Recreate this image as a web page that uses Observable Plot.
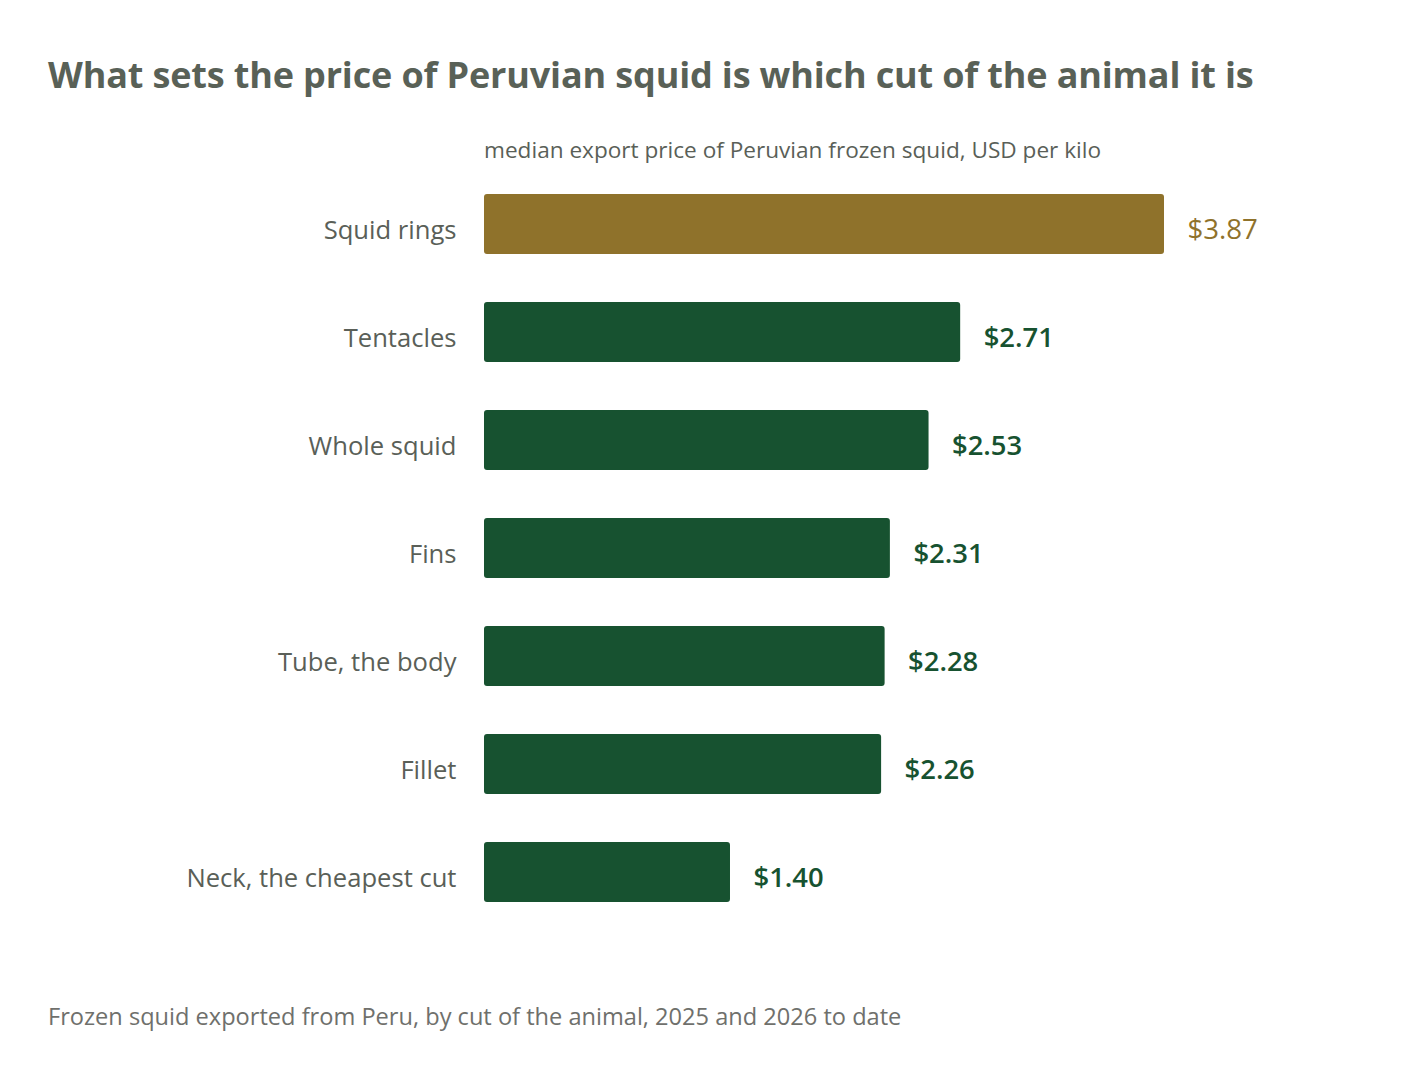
<!DOCTYPE html>
<html>
<head>
<meta charset="utf-8">
<script src="https://cdn.jsdelivr.net/npm/d3@7"></script>
<script src="https://cdn.jsdelivr.net/npm/@observablehq/plot@0.6"></script>
<style>
  html, body { margin: 0; padding: 0; background: #ffffff; }
  body { font-family: "Open Sans", "Noto Sans", sans-serif; }
  #wrap { position: relative; width: 1416px; height: 1082px; overflow: hidden; }
  .title { position: absolute; left: 48px; top: 53px; font-size: 36px; line-height: 44px; font-weight: 700; color: #596157; white-space: nowrap; letter-spacing: -0.15px; }
  .subtitle { position: absolute; left: 484px; top: 135px; font-size: 22.6px; line-height: 30px; color: #5a5f58; white-space: nowrap; }
  .caption { position: absolute; left: 48px; top: 1001px; font-size: 23.6px; line-height: 30px; color: #6f706c; white-space: nowrap; }
  #chart { position: absolute; left: 0; top: 170px; }
</style>
</head>
<body>
<div id="wrap">
  <div class="title" id="title"></div>
  <div class="subtitle" id="subtitle"></div>
  <div id="chart"></div>
  <div class="caption" id="caption"></div>
</div>
<script>
const titleText = "What sets the price of Peruvian squid is which cut of the animal it is";
const subtitleText = "median export price of Peruvian frozen squid, USD per kilo";
const captionText = "Frozen squid exported from Peru, by cut of the animal, 2025 and 2026 to date";

const cuts = ["Squid rings", "Tentacles", "Whole squid", "Fins", "Tube, the body", "Fillet", "Neck, the cheapest cut"];
const prices = [3.87, 2.71, 2.53, 2.31, 2.28, 2.26, 1.40];
const highlightCut = "Squid rings";

const gold = "#8f722b";
const green = "#175230";

document.getElementById("title").textContent = titleText;
document.getElementById("subtitle").textContent = subtitleText;
document.getElementById("caption").textContent = captionText;

const data = cuts.map((c, i) => ({cut: c, price: prices[i], hi: c === highlightCut}));
const fmt = d => "$" + d3.format(".2f")(d);

const chart = Plot.plot({
  width: 1416,
  height: 756,
  marginLeft: 484,
  marginRight: 252,
  marginTop: 0,
  marginBottom: 0,
  style: {fontFamily: "'Open Sans', 'Noto Sans', sans-serif", color: "#5a5f58", background: "transparent", overflow: "visible"},
  x: {domain: [0, 3.87], axis: null},
  y: {domain: cuts, paddingInner: 0.444, paddingOuter: 0.222, label: null},
  marks: [
    Plot.barX(data, {x: "price", y: "cut", fill: d => d.hi ? gold : green, rx: 3}),
    Plot.axisY({tickSize: 0, tickPadding: 28, fontSize: 25.6, dy: 6, label: null}),
    Plot.text(data.filter(d => d.hi), {x: "price", y: "cut", text: d => fmt(d.price), textAnchor: "start", dx: 23, dy: 6, fill: gold, fontSize: 27.6, fontWeight: 400}),
    Plot.text(data.filter(d => !d.hi), {x: "price", y: "cut", text: d => fmt(d.price), textAnchor: "start", dx: 23, dy: 6, fill: green, fontSize: 27.4, fontWeight: 600})
  ]
});
document.getElementById("chart").appendChild(chart);
</script>
</body>
</html>
